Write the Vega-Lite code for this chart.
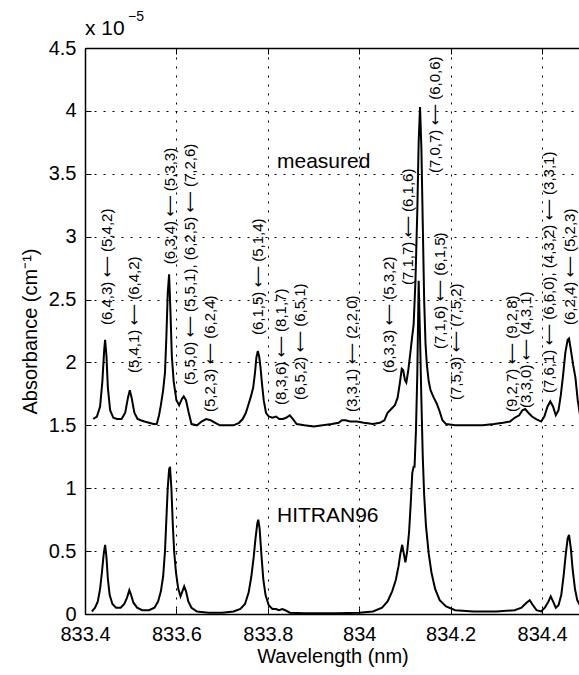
{
  "$schema": "https://vega.github.io/schema/vega-lite/v6.json",
  "autosize": {"type": "none"},
  "padding": {"left": 85, "top": 48, "right": 0, "bottom": 61},
  "width": 495,
  "height": 566,
  "background": "white",
  "config": {
    "font": "Liberation Sans",
    "view": {"stroke": null},
    "axis": {
      "domainColor": "black", "domainWidth": 1.5,
      "tickColor": "black", "tickWidth": 1, "tickSize": -6,
      "gridColor": "black", "gridDash": [2, 7], "gridWidth": 1, "gridOpacity": 1,
      "labelColor": "black", "labelFontSize": 20, "labelFlush": false, "labelOverlap": false, "labelBound": false,
      "titleColor": "black", "titleFontSize": 20, "titleFontWeight": "normal"
    }
  },
  "datasets": {
    "spec": [
      {"s":"measured","x":833.418,"y":1.55},{"s":"measured","x":833.426,"y":1.57},{"s":"measured","x":833.433,"y":1.65},{"s":"measured","x":833.438,"y":1.85},{"s":"measured","x":833.442,"y":2.10},{"s":"measured","x":833.444,"y":2.18},{"s":"measured","x":833.447,"y":2.05},{"s":"measured","x":833.450,"y":1.80},{"s":"measured","x":833.455,"y":1.62},{"s":"measured","x":833.462,"y":1.56},{"s":"measured","x":833.470,"y":1.55},{"s":"measured","x":833.480,"y":1.55},{"s":"measured","x":833.488,"y":1.60},{"s":"measured","x":833.494,"y":1.72},{"s":"measured","x":833.498,"y":1.78},{"s":"measured","x":833.502,"y":1.72},{"s":"measured","x":833.508,"y":1.60},{"s":"measured","x":833.515,"y":1.55},{"s":"measured","x":833.522,"y":1.54},{"s":"measured","x":833.530,"y":1.53},{"s":"measured","x":833.540,"y":1.52},{"s":"measured","x":833.550,"y":1.51},{"s":"measured","x":833.557,"y":1.51},{"s":"measured","x":833.562,"y":1.58},{"s":"measured","x":833.566,"y":1.66},{"s":"measured","x":833.571,"y":1.78},{"s":"measured","x":833.575,"y":1.92},{"s":"measured","x":833.578,"y":2.20},{"s":"measured","x":833.581,"y":2.55},{"s":"measured","x":833.584,"y":2.70},{"s":"measured","x":833.587,"y":2.40},{"s":"measured","x":833.590,"y":2.05},{"s":"measured","x":833.594,"y":1.85},{"s":"measured","x":833.600,"y":1.70},{"s":"measured","x":833.606,"y":1.66},{"s":"measured","x":833.612,"y":1.71},{"s":"measured","x":833.616,"y":1.73},{"s":"measured","x":833.621,"y":1.70},{"s":"measured","x":833.627,"y":1.60},{"s":"measured","x":833.633,"y":1.51},{"s":"measured","x":833.645,"y":1.50},{"s":"measured","x":833.655,"y":1.53},{"s":"measured","x":833.665,"y":1.55},{"s":"measured","x":833.675,"y":1.54},{"s":"measured","x":833.685,"y":1.52},{"s":"measured","x":833.695,"y":1.50},{"s":"measured","x":833.710,"y":1.50},{"s":"measured","x":833.725,"y":1.50},{"s":"measured","x":833.737,"y":1.52},{"s":"measured","x":833.745,"y":1.55},{"s":"measured","x":833.752,"y":1.60},{"s":"measured","x":833.758,"y":1.67},{"s":"measured","x":833.763,"y":1.73},{"s":"measured","x":833.768,"y":1.80},{"s":"measured","x":833.772,"y":1.92},{"s":"measured","x":833.775,"y":2.04},{"s":"measured","x":833.778,"y":2.09},{"s":"measured","x":833.781,"y":2.05},{"s":"measured","x":833.784,"y":1.96},{"s":"measured","x":833.787,"y":1.84},{"s":"measured","x":833.791,"y":1.70},{"s":"measured","x":833.796,"y":1.60},{"s":"measured","x":833.802,"y":1.57},{"s":"measured","x":833.810,"y":1.56},{"s":"measured","x":833.818,"y":1.57},{"s":"measured","x":833.825,"y":1.55},{"s":"measured","x":833.833,"y":1.55},{"s":"measured","x":833.840,"y":1.56},{"s":"measured","x":833.848,"y":1.58},{"s":"measured","x":833.855,"y":1.55},{"s":"measured","x":833.863,"y":1.51},{"s":"measured","x":833.880,"y":1.50},{"s":"measured","x":833.900,"y":1.49},{"s":"measured","x":833.920,"y":1.50},{"s":"measured","x":833.940,"y":1.51},{"s":"measured","x":833.955,"y":1.52},{"s":"measured","x":833.962,"y":1.54},{"s":"measured","x":833.970,"y":1.54},{"s":"measured","x":833.980,"y":1.53},{"s":"measured","x":833.995,"y":1.53},{"s":"measured","x":834.010,"y":1.52},{"s":"measured","x":834.030,"y":1.51},{"s":"measured","x":834.045,"y":1.52},{"s":"measured","x":834.055,"y":1.54},{"s":"measured","x":834.062,"y":1.60},{"s":"measured","x":834.070,"y":1.63},{"s":"measured","x":834.078,"y":1.66},{"s":"measured","x":834.084,"y":1.72},{"s":"measured","x":834.089,"y":1.84},{"s":"measured","x":834.093,"y":1.95},{"s":"measured","x":834.096,"y":1.94},{"s":"measured","x":834.100,"y":1.86},{"s":"measured","x":834.103,"y":1.84},{"s":"measured","x":834.107,"y":1.93},{"s":"measured","x":834.111,"y":2.05},{"s":"measured","x":834.115,"y":2.18},{"s":"measured","x":834.119,"y":2.30},{"s":"measured","x":834.123,"y":2.65},{"s":"measured","x":834.127,"y":3.20},{"s":"measured","x":834.130,"y":3.75},{"s":"measured","x":834.133,"y":4.03},{"s":"measured","x":834.136,"y":3.70},{"s":"measured","x":834.139,"y":3.10},{"s":"measured","x":834.142,"y":2.50},{"s":"measured","x":834.145,"y":2.15},{"s":"measured","x":834.148,"y":1.98},{"s":"measured","x":834.152,"y":1.85},{"s":"measured","x":834.156,"y":1.78},{"s":"measured","x":834.163,"y":1.72},{"s":"measured","x":834.170,"y":1.67},{"s":"measured","x":834.176,"y":1.61},{"s":"measured","x":834.182,"y":1.54},{"s":"measured","x":834.190,"y":1.51},{"s":"measured","x":834.210,"y":1.50},{"s":"measured","x":834.240,"y":1.50},{"s":"measured","x":834.270,"y":1.50},{"s":"measured","x":834.295,"y":1.51},{"s":"measured","x":834.315,"y":1.52},{"s":"measured","x":834.330,"y":1.53},{"s":"measured","x":834.340,"y":1.56},{"s":"measured","x":834.350,"y":1.58},{"s":"measured","x":834.357,"y":1.62},{"s":"measured","x":834.363,"y":1.63},{"s":"measured","x":834.370,"y":1.60},{"s":"measured","x":834.378,"y":1.57},{"s":"measured","x":834.387,"y":1.55},{"s":"measured","x":834.398,"y":1.53},{"s":"measured","x":834.405,"y":1.57},{"s":"measured","x":834.412,"y":1.65},{"s":"measured","x":834.418,"y":1.69},{"s":"measured","x":834.424,"y":1.65},{"s":"measured","x":834.430,"y":1.58},{"s":"measured","x":834.436,"y":1.62},{"s":"measured","x":834.441,"y":1.74},{"s":"measured","x":834.446,"y":1.90},{"s":"measured","x":834.451,"y":2.08},{"s":"measured","x":834.456,"y":2.18},{"s":"measured","x":834.459,"y":2.19},{"s":"measured","x":834.463,"y":2.10},{"s":"measured","x":834.468,"y":1.98},{"s":"measured","x":834.473,"y":1.88},{"s":"measured","x":834.478,"y":1.70},{"s":"measured","x":834.483,"y":1.58},
      {"s":"HITRAN96","x":833.415,"y":0.02},{"s":"HITRAN96","x":833.422,"y":0.05},{"s":"HITRAN96","x":833.428,"y":0.10},{"s":"HITRAN96","x":833.433,"y":0.20},{"s":"HITRAN96","x":833.437,"y":0.33},{"s":"HITRAN96","x":833.441,"y":0.48},{"s":"HITRAN96","x":833.444,"y":0.55},{"s":"HITRAN96","x":833.447,"y":0.45},{"s":"HITRAN96","x":833.450,"y":0.28},{"s":"HITRAN96","x":833.454,"y":0.15},{"s":"HITRAN96","x":833.460,"y":0.08},{"s":"HITRAN96","x":833.468,"y":0.05},{"s":"HITRAN96","x":833.478,"y":0.05},{"s":"HITRAN96","x":833.486,"y":0.08},{"s":"HITRAN96","x":833.492,"y":0.13},{"s":"HITRAN96","x":833.497,"y":0.19},{"s":"HITRAN96","x":833.501,"y":0.15},{"s":"HITRAN96","x":833.506,"y":0.09},{"s":"HITRAN96","x":833.514,"y":0.05},{"s":"HITRAN96","x":833.525,"y":0.03},{"s":"HITRAN96","x":833.540,"y":0.03},{"s":"HITRAN96","x":833.552,"y":0.05},{"s":"HITRAN96","x":833.560,"y":0.10},{"s":"HITRAN96","x":833.566,"y":0.18},{"s":"HITRAN96","x":833.571,"y":0.30},{"s":"HITRAN96","x":833.575,"y":0.50},{"s":"HITRAN96","x":833.578,"y":0.75},{"s":"HITRAN96","x":833.581,"y":1.00},{"s":"HITRAN96","x":833.584,"y":1.15},{"s":"HITRAN96","x":833.586,"y":1.17},{"s":"HITRAN96","x":833.589,"y":1.00},{"s":"HITRAN96","x":833.592,"y":0.72},{"s":"HITRAN96","x":833.595,"y":0.50},{"s":"HITRAN96","x":833.599,"y":0.33},{"s":"HITRAN96","x":833.604,"y":0.20},{"s":"HITRAN96","x":833.609,"y":0.14},{"s":"HITRAN96","x":833.613,"y":0.18},{"s":"HITRAN96","x":833.617,"y":0.22},{"s":"HITRAN96","x":833.621,"y":0.18},{"s":"HITRAN96","x":833.626,"y":0.10},{"s":"HITRAN96","x":833.633,"y":0.05},{"s":"HITRAN96","x":833.645,"y":0.02},{"s":"HITRAN96","x":833.670,"y":0.01},{"s":"HITRAN96","x":833.700,"y":0.01},{"s":"HITRAN96","x":833.725,"y":0.02},{"s":"HITRAN96","x":833.740,"y":0.04},{"s":"HITRAN96","x":833.750,"y":0.08},{"s":"HITRAN96","x":833.758,"y":0.17},{"s":"HITRAN96","x":833.764,"y":0.30},{"s":"HITRAN96","x":833.769,"y":0.45},{"s":"HITRAN96","x":833.773,"y":0.60},{"s":"HITRAN96","x":833.777,"y":0.72},{"s":"HITRAN96","x":833.779,"y":0.75},{"s":"HITRAN96","x":833.782,"y":0.68},{"s":"HITRAN96","x":833.786,"y":0.47},{"s":"HITRAN96","x":833.790,"y":0.28},{"s":"HITRAN96","x":833.795,"y":0.15},{"s":"HITRAN96","x":833.802,"y":0.07},{"s":"HITRAN96","x":833.810,"y":0.04},{"s":"HITRAN96","x":833.818,"y":0.04},{"s":"HITRAN96","x":833.824,"y":0.03},{"s":"HITRAN96","x":833.832,"y":0.04},{"s":"HITRAN96","x":833.838,"y":0.03},{"s":"HITRAN96","x":833.848,"y":0.01},{"s":"HITRAN96","x":833.880,"y":0.005},{"s":"HITRAN96","x":833.950,"y":0.005},{"s":"HITRAN96","x":834.000,"y":0.01},{"s":"HITRAN96","x":834.030,"y":0.02},{"s":"HITRAN96","x":834.050,"y":0.05},{"s":"HITRAN96","x":834.062,"y":0.10},{"s":"HITRAN96","x":834.072,"y":0.18},{"s":"HITRAN96","x":834.080,"y":0.27},{"s":"HITRAN96","x":834.086,"y":0.38},{"s":"HITRAN96","x":834.090,"y":0.48},{"s":"HITRAN96","x":834.094,"y":0.55},{"s":"HITRAN96","x":834.098,"y":0.47},{"s":"HITRAN96","x":834.101,"y":0.41},{"s":"HITRAN96","x":834.105,"y":0.50},{"s":"HITRAN96","x":834.109,"y":0.65},{"s":"HITRAN96","x":834.113,"y":0.90},{"s":"HITRAN96","x":834.116,"y":1.12},{"s":"HITRAN96","x":834.119,"y":1.17},{"s":"HITRAN96","x":834.121,"y":1.17},{"s":"HITRAN96","x":834.124,"y":1.45},{"s":"HITRAN96","x":834.127,"y":1.90},{"s":"HITRAN96","x":834.130,"y":2.65},{"s":"HITRAN96","x":834.133,"y":2.20},{"s":"HITRAN96","x":834.136,"y":1.70},{"s":"HITRAN96","x":834.139,"y":1.25},{"s":"HITRAN96","x":834.142,"y":0.95},{"s":"HITRAN96","x":834.146,"y":0.70},{"s":"HITRAN96","x":834.152,"y":0.48},{"s":"HITRAN96","x":834.158,"y":0.33},{"s":"HITRAN96","x":834.166,"y":0.20},{"s":"HITRAN96","x":834.176,"y":0.11},{"s":"HITRAN96","x":834.190,"y":0.06},{"s":"HITRAN96","x":834.210,"y":0.03},{"s":"HITRAN96","x":834.250,"y":0.02},{"s":"HITRAN96","x":834.300,"y":0.02},{"s":"HITRAN96","x":834.340,"y":0.03},{"s":"HITRAN96","x":834.355,"y":0.05},{"s":"HITRAN96","x":834.366,"y":0.09},{"s":"HITRAN96","x":834.373,"y":0.11},{"s":"HITRAN96","x":834.380,"y":0.07},{"s":"HITRAN96","x":834.388,"y":0.03},{"s":"HITRAN96","x":834.398,"y":0.02},{"s":"HITRAN96","x":834.406,"y":0.05},{"s":"HITRAN96","x":834.414,"y":0.10},{"s":"HITRAN96","x":834.419,"y":0.14},{"s":"HITRAN96","x":834.424,"y":0.10},{"s":"HITRAN96","x":834.430,"y":0.05},{"s":"HITRAN96","x":834.436,"y":0.07},{"s":"HITRAN96","x":834.442,"y":0.15},{"s":"HITRAN96","x":834.447,"y":0.30},{"s":"HITRAN96","x":834.452,"y":0.48},{"s":"HITRAN96","x":834.456,"y":0.60},{"s":"HITRAN96","x":834.459,"y":0.63},{"s":"HITRAN96","x":834.463,"y":0.52},{"s":"HITRAN96","x":834.467,"y":0.35},{"s":"HITRAN96","x":834.472,"y":0.20},{"s":"HITRAN96","x":834.477,"y":0.11},{"s":"HITRAN96","x":834.483,"y":0.07}
    ],
    "labels": [
      {"x":833.448,"y":2.297,"t":"(6,4,3) ⟵ (5,4,2)"},
      {"x":833.507,"y":1.916,"t":"(5,4,1) ⟵ (6,4,2)"},
      {"x":833.586,"y":2.78,"t":"(6,3,4) ⟵ (5,3,3)"},
      {"x":833.630,"y":1.820,"t":"(5,5,0) ⟵ (5,5,1), (6,2,5) ⟵ (7,2,6)"},
      {"x":833.674,"y":1.606,"t":"(5,2,3) ⟵ (6,2,4)"},
      {"x":833.779,"y":2.218,"t":"(6,1,5) ⟵ (5,1,4)"},
      {"x":833.829,"y":1.661,"t":"(8,3,6) ⟵ (8,1,7)"},
      {"x":833.870,"y":1.701,"t":"(6,5,2) ⟵ (6,5,1)"},
      {"x":833.984,"y":1.606,"t":"(3,3,1) ⟵ (2,2,0)"},
      {"x":834.065,"y":1.916,"t":"(6,3,3) ⟵ (5,3,2)"},
      {"x":834.107,"y":2.615,"t":"(7,1,7) ⟵ (6,1,6)"},
      {"x":834.166,"y":3.506,"t":"(7,0,7) ⟵ (6,0,6)"},
      {"x":834.177,"y":2.107,"t":"(7,1,6) ⟵ (6,1,5)"},
      {"x":834.212,"y":1.701,"t":"(7,5,3) ⟵ (7,5,2)"},
      {"x":834.334,"y":1.606,"t":"(9,2,7) ⟵ (9,2,8)"},
      {"x":834.365,"y":1.638,"t":"(3,3,0) ⟵ (4,3,1)"},
      {"x":834.415,"y":1.757,"t":"(7,6,1) ⟵ (6,6,0), (4,3,2) ⟵ (3,3,1)"},
      {"x":834.461,"y":2.297,"t":"(6,2,4) ⟵ (5,2,3)"}
    ],
    "notes": [
      {"x":833.820,"y":3.545,"t":"measured"},
      {"x":833.820,"y":0.731,"t":"HITRAN96"},
      {"x":833.400,"y":4.603,"t":"x 10"}
    ],
    "sup": [
      {"x":833.494,"y":4.714,"t":"−5"}
    ]
  },
  "resolve": {"axis": {"x": "independent"}},
  "layer": [
    {
      "data": {"name": "spec"},
      "mark": {"type": "line", "color": "black", "strokeWidth": 2, "interpolate": "linear"},
      "encoding": {
        "x": {"field": "x", "type": "quantitative",
              "scale": {"domain": [833.4, 834.483], "zero": false, "nice": false},
              "axis": {"orient": "bottom", "values": [833.4, 833.6, 833.8, 834, 834.2, 834.4],
                       "labelExpr": "format(datum.value, '.1~f')", "labelPadding": 16,
                       "grid": true, "title": "Wavelength (nm)", "titlePadding": 2}},
        "y": {"field": "y", "type": "quantitative",
              "scale": {"domain": [0, 4.5], "zero": false, "nice": false},
              "axis": {"values": [0, 0.5, 1, 1.5, 2, 2.5, 3, 3.5, 4, 4.5],
                       "labelExpr": "format(datum.value, '.1~f')", "labelPadding": 15,
                       "grid": true, "title": "Absorbance (cm⁻¹)", "titlePadding": 8}},
        "detail": {"field": "s", "type": "nominal"}
      }
    },
    {
      "data": {"name": "labels"},
      "mark": {"type": "text", "angle": 270, "align": "left", "baseline": "middle", "fontSize": 15, "color": "black", "font": "Liberation Sans, DejaVu Sans"},
      "encoding": {
        "x": {"field": "x", "type": "quantitative",
              "scale": {"domain": [833.4, 834.483], "zero": false, "nice": false},
              "axis": {"orient": "top", "values": [833.4, 833.6, 833.8, 834, 834.2, 834.4],
                       "labels": false, "grid": false, "title": null}},
        "y": {"field": "y", "type": "quantitative", "scale": {"domain": [0, 4.5], "zero": false, "nice": false}},
        "text": {"field": "t", "type": "nominal"}
      }
    },
    {
      "data": {"name": "notes"},
      "mark": {"type": "text", "align": "left", "baseline": "alphabetic", "fontSize": 21, "color": "black"},
      "encoding": {
        "x": {"field": "x", "type": "quantitative", "scale": {"domain": [833.4, 834.483], "zero": false, "nice": false}, "axis": null},
        "y": {"field": "y", "type": "quantitative", "scale": {"domain": [0, 4.5], "zero": false, "nice": false}},
        "text": {"field": "t", "type": "nominal"}
      }
    },
    {
      "data": {"name": "sup"},
      "mark": {"type": "text", "align": "left", "baseline": "alphabetic", "fontSize": 14, "color": "black"},
      "encoding": {
        "x": {"field": "x", "type": "quantitative", "scale": {"domain": [833.4, 834.483], "zero": false, "nice": false}, "axis": null},
        "y": {"field": "y", "type": "quantitative", "scale": {"domain": [0, 4.5], "zero": false, "nice": false}},
        "text": {"field": "t", "type": "nominal"}
      }
    }
  ]
}
